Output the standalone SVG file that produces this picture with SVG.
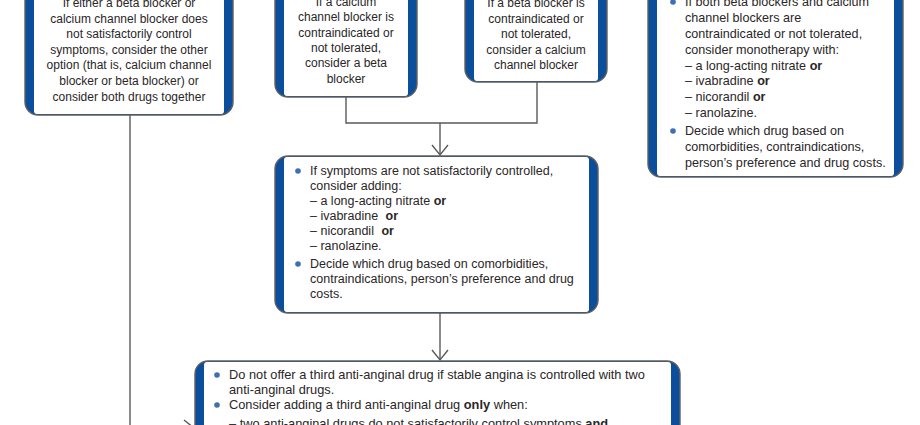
<svg xmlns="http://www.w3.org/2000/svg" width="920" height="425" viewBox="0 0 920 425">
<style>
.outer{fill:#0b4f9c;stroke:none}
.inner{fill:#ffffff}
.frame{fill:none;stroke:#5f5f5f;stroke-width:1.4}
text{font-family:"Liberation Sans",Arial,sans-serif;font-size:12px;fill:#2a2627}
.c{text-anchor:middle}
.b{font-weight:bold}
.dot{fill:#3d6fb4}
.con{fill:none;stroke:#5a5a5a;stroke-width:1.4}
#box4 text{font-size:12.5px}
#box5 text{font-size:12.8px}
#box6 text{font-size:12.6px}
</style>
<defs>
<marker id="arr" markerUnits="userSpaceOnUse" markerWidth="14" markerHeight="20" refX="11" refY="9" orient="auto">
<path d="M1,1 L11,9 L1,17" fill="none" stroke="#5a5a5a" stroke-width="1.4"/>
</marker>
</defs>
<rect width="920" height="425" fill="#ffffff"/>

<g id="connectors">
<path class="con" d="M346,97 V123 H440"/>
<path class="con" d="M537,82 V123 H440"/>
<path class="con" d="M440,123 V155" marker-end="url(#arr)"/>
<path class="con" d="M440,313 V360" marker-end="url(#arr)"/>
<path class="con" d="M130,115 V428 H194" marker-end="url(#arr)"/>
</g>

<g id="box1">
<rect class="outer" x="25" y="-20" width="208" height="135" rx="13"/>
<rect class="inner" x="34" y="-19" width="190" height="133" rx="3"/>
<rect class="frame" x="25" y="-20" width="208" height="135" rx="13"/>
<text class="c" x="129" y="7">If either a beta blocker or</text>
<text class="c" x="129" y="23">calcium channel blocker does</text>
<text class="c" x="129" y="38">not satisfactorily control</text>
<text class="c" x="129" y="54">symptoms, consider the other</text>
<text class="c" x="129" y="69">option (that is, calcium channel</text>
<text class="c" x="129" y="85">blocker or beta blocker) or</text>
<text class="c" x="129" y="101">consider both drugs together</text>
</g>

<g id="box2">
<rect class="outer" x="275" y="-20" width="142" height="117" rx="13"/>
<rect class="inner" x="284" y="-19" width="124" height="115" rx="3"/>
<rect class="frame" x="275" y="-20" width="142" height="117" rx="13"/>
<text class="c" x="346" y="6">If a calcium</text>
<text class="c" x="346" y="21">channel blocker is</text>
<text class="c" x="346" y="37">contraindicated or</text>
<text class="c" x="346" y="52">not tolerated,</text>
<text class="c" x="346" y="67">consider a beta</text>
<text class="c" x="346" y="83">blocker</text>
</g>

<g id="box3">
<rect class="outer" x="465" y="-20" width="142" height="102" rx="13"/>
<rect class="inner" x="474" y="-19" width="124" height="100" rx="3"/>
<rect class="frame" x="465" y="-20" width="142" height="102" rx="13"/>
<text class="c" x="536" y="7">If a beta blocker is</text>
<text class="c" x="536" y="23">contraindicated or</text>
<text class="c" x="536" y="38">not tolerated,</text>
<text class="c" x="536" y="54">consider a calcium</text>
<text class="c" x="536" y="69">channel blocker</text>
</g>

<g id="box6">
<rect class="outer" x="648" y="-20" width="255" height="197" rx="13"/>
<rect class="inner" x="657" y="-19" width="237" height="195" rx="3"/>
<rect class="frame" x="648" y="-20" width="255" height="197" rx="13"/>
<circle class="dot" cx="673" cy="2" r="2.8"/>
<text x="685" y="6">If both beta blockers and calcium</text>
<text x="685" y="22">channel blockers are</text>
<text x="685" y="38">contraindicated or not tolerated,</text>
<text x="685" y="54">consider monotherapy with:</text>
<text x="685" y="70">– a long-acting nitrate <tspan class="b">or</tspan></text>
<text x="685" y="85">– ivabradine <tspan class="b">or</tspan></text>
<text x="685" y="101">– nicorandil <tspan class="b">or</tspan></text>
<text x="685" y="117">– ranolazine.</text>
<circle class="dot" cx="673" cy="131" r="2.8"/>
<text x="685" y="135">Decide which drug based on</text>
<text x="685" y="151">comorbidities, contraindications,</text>
<text x="685" y="167">person’s preference and drug costs.</text>
</g>

<g id="box4">
<rect class="outer" x="275" y="156" width="323" height="157" rx="13"/>
<rect class="inner" x="284" y="157" width="305" height="155" rx="3"/>
<rect class="frame" x="275" y="156" width="323" height="157" rx="13"/>
<circle class="dot" cx="298" cy="171" r="2.8"/>
<text x="310" y="175">If symptoms are not satisfactorily controlled,</text>
<text x="310" y="190">consider adding:</text>
<text x="310" y="205">– a long-acting nitrate <tspan class="b">or</tspan></text>
<text x="310" y="220">– ivabradine <tspan class="b" dx="4">or</tspan></text>
<text x="310" y="235">– nicorandil <tspan class="b" dx="4">or</tspan></text>
<text x="310" y="250">– ranolazine.</text>
<circle class="dot" cx="298" cy="264" r="2.8"/>
<text x="310" y="268">Decide which drug based on comorbidities,</text>
<text x="310" y="283">contraindications, person’s preference and drug</text>
<text x="310" y="298">costs.</text>
</g>

<g id="box5">
<rect class="outer" x="195" y="361" width="485" height="100" rx="13"/>
<rect class="inner" x="204" y="362" width="467" height="98" rx="3"/>
<rect class="frame" x="195" y="361" width="485" height="100" rx="13"/>
<circle class="dot" cx="217" cy="375" r="2.8"/>
<text x="229" y="379">Do not offer a third anti-anginal drug if stable angina is controlled with two</text>
<text x="229" y="394">anti-anginal drugs.</text>
<circle class="dot" cx="217" cy="405" r="2.8"/>
<text x="229" y="409">Consider adding a third anti-anginal drug <tspan class="b">only</tspan> when:</text>
<text x="229" y="428">– two anti-anginal drugs do not satisfactorily control symptoms <tspan class="b">and</tspan></text>
</g>
</svg>
